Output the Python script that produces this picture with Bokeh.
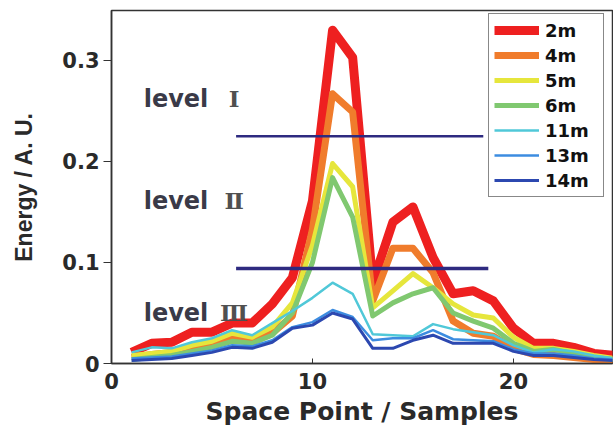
from bokeh.plotting import figure
from bokeh.models import FixedTicker, Legend, LegendItem
from bokeh.core.properties import value
from bokeh.embed import file_html
from bokeh.resources import INLINE

# ---- data ----
space_points = list(range(1, 26))
e_2m = [0.011, 0.020, 0.021, 0.031, 0.031, 0.040, 0.040, 0.059, 0.085, 0.161, 0.330, 0.303, 0.080,
        0.140, 0.155, 0.105, 0.069, 0.072, 0.062, 0.035, 0.020, 0.020, 0.016, 0.010, 0.008]
e_4m = [0.006, 0.009, 0.011, 0.015, 0.018, 0.025, 0.022, 0.030, 0.047, 0.133, 0.267, 0.249, 0.062,
        0.114, 0.114, 0.090, 0.042, 0.030, 0.027, 0.015, 0.009, 0.008, 0.006, 0.004, 0.002]
e_5m = [0.008, 0.010, 0.012, 0.018, 0.022, 0.030, 0.026, 0.036, 0.060, 0.117, 0.198, 0.175, 0.055,
        0.072, 0.089, 0.075, 0.059, 0.048, 0.045, 0.026, 0.015, 0.015, 0.012, 0.008, 0.005]
e_6m = [0.004, 0.006, 0.008, 0.012, 0.016, 0.022, 0.020, 0.028, 0.050, 0.100, 0.184, 0.145, 0.047,
        0.060, 0.069, 0.075, 0.050, 0.042, 0.035, 0.020, 0.012, 0.014, 0.010, 0.006, 0.004]
e_11m = [0.011, 0.016, 0.015, 0.021, 0.025, 0.033, 0.028, 0.040, 0.052, 0.065, 0.080, 0.069, 0.029,
         0.028, 0.027, 0.039, 0.034, 0.031, 0.028, 0.018, 0.011, 0.014, 0.012, 0.008, 0.005]
e_13m = [0.005, 0.006, 0.007, 0.010, 0.013, 0.018, 0.017, 0.023, 0.036, 0.041, 0.053, 0.046, 0.023,
         0.025, 0.025, 0.033, 0.024, 0.023, 0.022, 0.014, 0.010, 0.010, 0.008, 0.005, 0.004]
e_14m = [0.003, 0.004, 0.005, 0.008, 0.011, 0.016, 0.015, 0.021, 0.035, 0.038, 0.050, 0.044, 0.015,
         0.015, 0.023, 0.028, 0.020, 0.020, 0.020, 0.012, 0.008, 0.008, 0.006, 0.004, 0.003]
series_names = ["2m", "4m", "5m", "6m", "11m", "13m", "14m"]
series_values = [e_2m, e_4m, e_5m, e_6m, e_11m, e_13m, e_14m]

level_y = [0.225, 0.094]
level_x0 = [6.2, 6.2]
level_x1 = [18.5, 18.75]
level_words = ["level", "level", "level"]
level_numerals = ["Ⅰ", "Ⅱ", "Ⅲ"]
level_text_y = [0.262, 0.161, 0.050]

x_ticks = [0, 10, 20]
y_ticks = [0, 0.1, 0.2, 0.3]

# ---- styles ----
colors = ["#ee2020", "#f07c2c", "#e6e63c", "#80c870", "#50c8d8", "#3c8ce0", "#2c48b0"]
widths = [9, 7, 5, 5, 2.5, 2.5, 3]
FONT = "DejaVu Sans"
TXT = "#2a2a2a"

p = figure(output_backend="svg", toolbar_location=None,
           frame_width=501, frame_height=353,
           x_range=(0, 24.93), y_range=(0, 0.3495),
           min_border_left=111, min_border_right=1, min_border_top=10, min_border_bottom=70)
p.width = 613
p.height = 433
p.xgrid.visible = False
p.ygrid.visible = False
p.outline_line_color = "#333333"
p.outline_line_width = 1.5
p.background_fill_color = "white"
p.border_fill_color = "white"

renderers = []
for name, vals, c, w in zip(series_names, series_values, colors, widths):
    r = p.line(space_points, vals, line_color=c, line_width=w, line_join="round")
    renderers.append(r)

p.segment(x0=level_x0, y0=level_y, x1=level_x1, y1=level_y,
          line_color="#2e2a80", line_width=[2.5, 3.5])

p.text(x=[1.6] * 3, y=level_text_y, text=level_words, text_font=value(FONT),
       text_font_style="bold", text_font_size="24px", text_color="#3a3a48",
       text_baseline="middle", text_align="left")
p.text(x=[6.1] * 3, y=level_text_y, text=level_numerals, text_font=value("DejaVu Serif"),
       text_font_style="bold", text_font_size="23px", text_color="#505050",
       text_baseline="middle", text_align="center")

# axes
p.xaxis.ticker = FixedTicker(ticks=x_ticks)
p.yaxis.ticker = FixedTicker(ticks=y_ticks)
p.yaxis.major_label_overrides = {0: "0"}
for ax in (p.xaxis[0], p.yaxis[0]):
    ax.axis_line_color = "#333333"
    ax.axis_line_width = 1.5
    ax.major_tick_line_color = "#333333"
    ax.minor_tick_line_color = None
    ax.major_label_text_font = FONT
    ax.major_label_text_font_style = "bold"
    ax.major_label_text_font_size = "21px"
    ax.major_label_text_color = TXT
    ax.axis_label_text_font_style = "bold"
    ax.axis_label_text_color = TXT

p.xaxis.major_tick_in = 5
p.xaxis.major_tick_out = 0
p.xaxis.major_label_standoff = 9
p.xaxis.axis_label = "Space Point / Samples"
p.xaxis.axis_label_text_font = FONT
p.xaxis.axis_label_text_font_size = "25px"
p.xaxis.axis_label_standoff = 5

p.yaxis.major_tick_in = 0
p.yaxis.major_tick_out = 8
p.yaxis.major_label_standoff = 4
p.yaxis.axis_label = "Energy / A. U."
p.yaxis.axis_label_text_font = "Liberation Sans"
p.yaxis.axis_label_text_font_size = "23px"
p.yaxis.axis_label_standoff = 22

legend = Legend(items=[LegendItem(label=n, renderers=[r]) for n, r in zip(series_names, renderers)],
                location=(377, 166), margin=0, padding=5, spacing=3,
                label_height=22, glyph_height=22, glyph_width=45, label_width=53,
                label_standoff=6,
                label_text_font=FONT, label_text_font_style="bold", label_text_font_size="18px",
                label_text_color="#111111",
                border_line_color="#111111", border_line_width=1.5,
                background_fill_color="white", background_fill_alpha=1)
p.add_layout(legend, "center")

open("out.html", "w").write(file_html(p, INLINE))
